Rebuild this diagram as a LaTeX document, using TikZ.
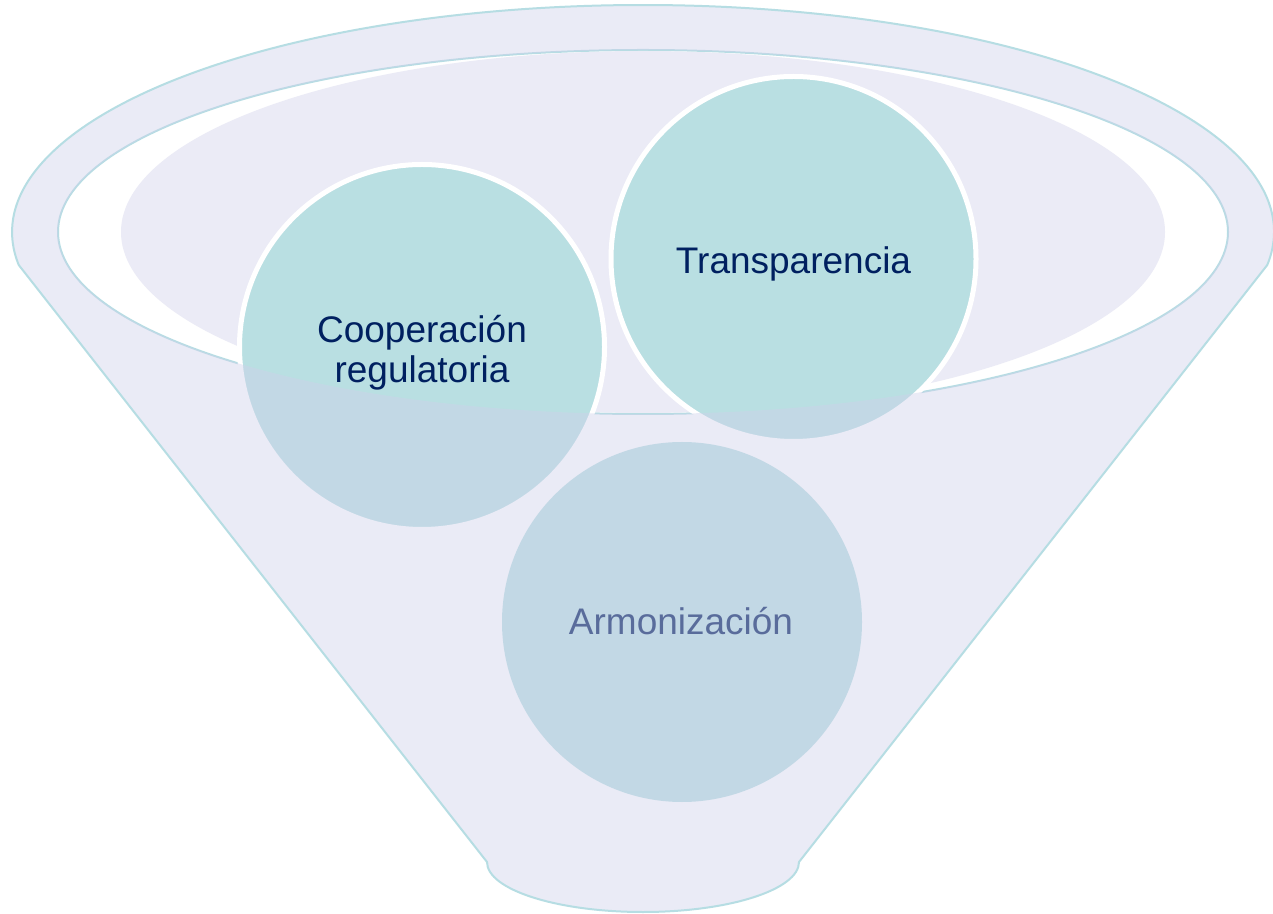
\documentclass[tikz,border=0pt]{standalone}
\usepackage{fontspec}
\setmainfont{Liberation Sans}
\definecolor{lav}{RGB}{235,235,246}
\definecolor{veil}{RGB}{208,209,235}
\definecolor{rim}{RGB}{182,221,227}
\definecolor{bubblefill}{RGB}{185,223,226}
\definecolor{navy}{RGB}{0,32,96}
\tikzset{
  rimline/.style={draw=rim, line width=2pt},
  bubble/.style={circle, fill=bubblefill, draw=white, line width=5pt, minimum size=365pt, inner sep=0pt},
  plainbubble/.style={circle, fill=bubblefill, minimum size=360pt, inner sep=0pt},
  lbl/.style={text=navy, font=\fontsize{37}{40}\selectfont, inner sep=0pt, align=center},
}
\begin{document}
\begin{tikzpicture}[x=1pt,y=1pt]
\useasboundingbox (0,0) rectangle (1273,913);
\fill[white] (0,0) rectangle (1273,913);
\coordinate (fc) at (643,681);
\coordinate (bc) at (643,51);
% mouth of the funnel
\draw[rimline, fill=white] (fc) ellipse[x radius=585, y radius=182];
\fill[lav] (fc) ellipse[x radius=522, y radius=181];
% bubbles
\node[bubble] (coop) at (422,566) {};
\node[bubble] (trans) at (793.5,654) {};
\node[plainbubble] (armo) at (682,291) {};
\node[lbl] (tcoop) at (422,560) {Cooperación\\regulatoria};
\node[lbl, anchor=base] (ttrans) at (793.5,639) {Transparencia};
\node[lbl, anchor=base] (tarmo) at (681,278) {Armonización};
% translucent front of the funnel
\fill[veil, fill opacity=0.43, even odd rule]
  (fc) ++(-8.36:631 and 227) arc[start angle=-8.36, end angle=188.36, x radius=631, y radius=227]
  -- (487,51) arc[start angle=180, end angle=360, x radius=156, y radius=50] -- cycle
  (fc) ellipse[x radius=585, y radius=182];
% outline of the funnel
\draw[rimline, line join=round]
  (fc) ++(-8.36:631 and 227) arc[start angle=-8.36, end angle=188.36, x radius=631, y radius=227]
  -- (487,51) arc[start angle=180, end angle=360, x radius=156, y radius=50] -- cycle;
\end{tikzpicture}
\end{document}
